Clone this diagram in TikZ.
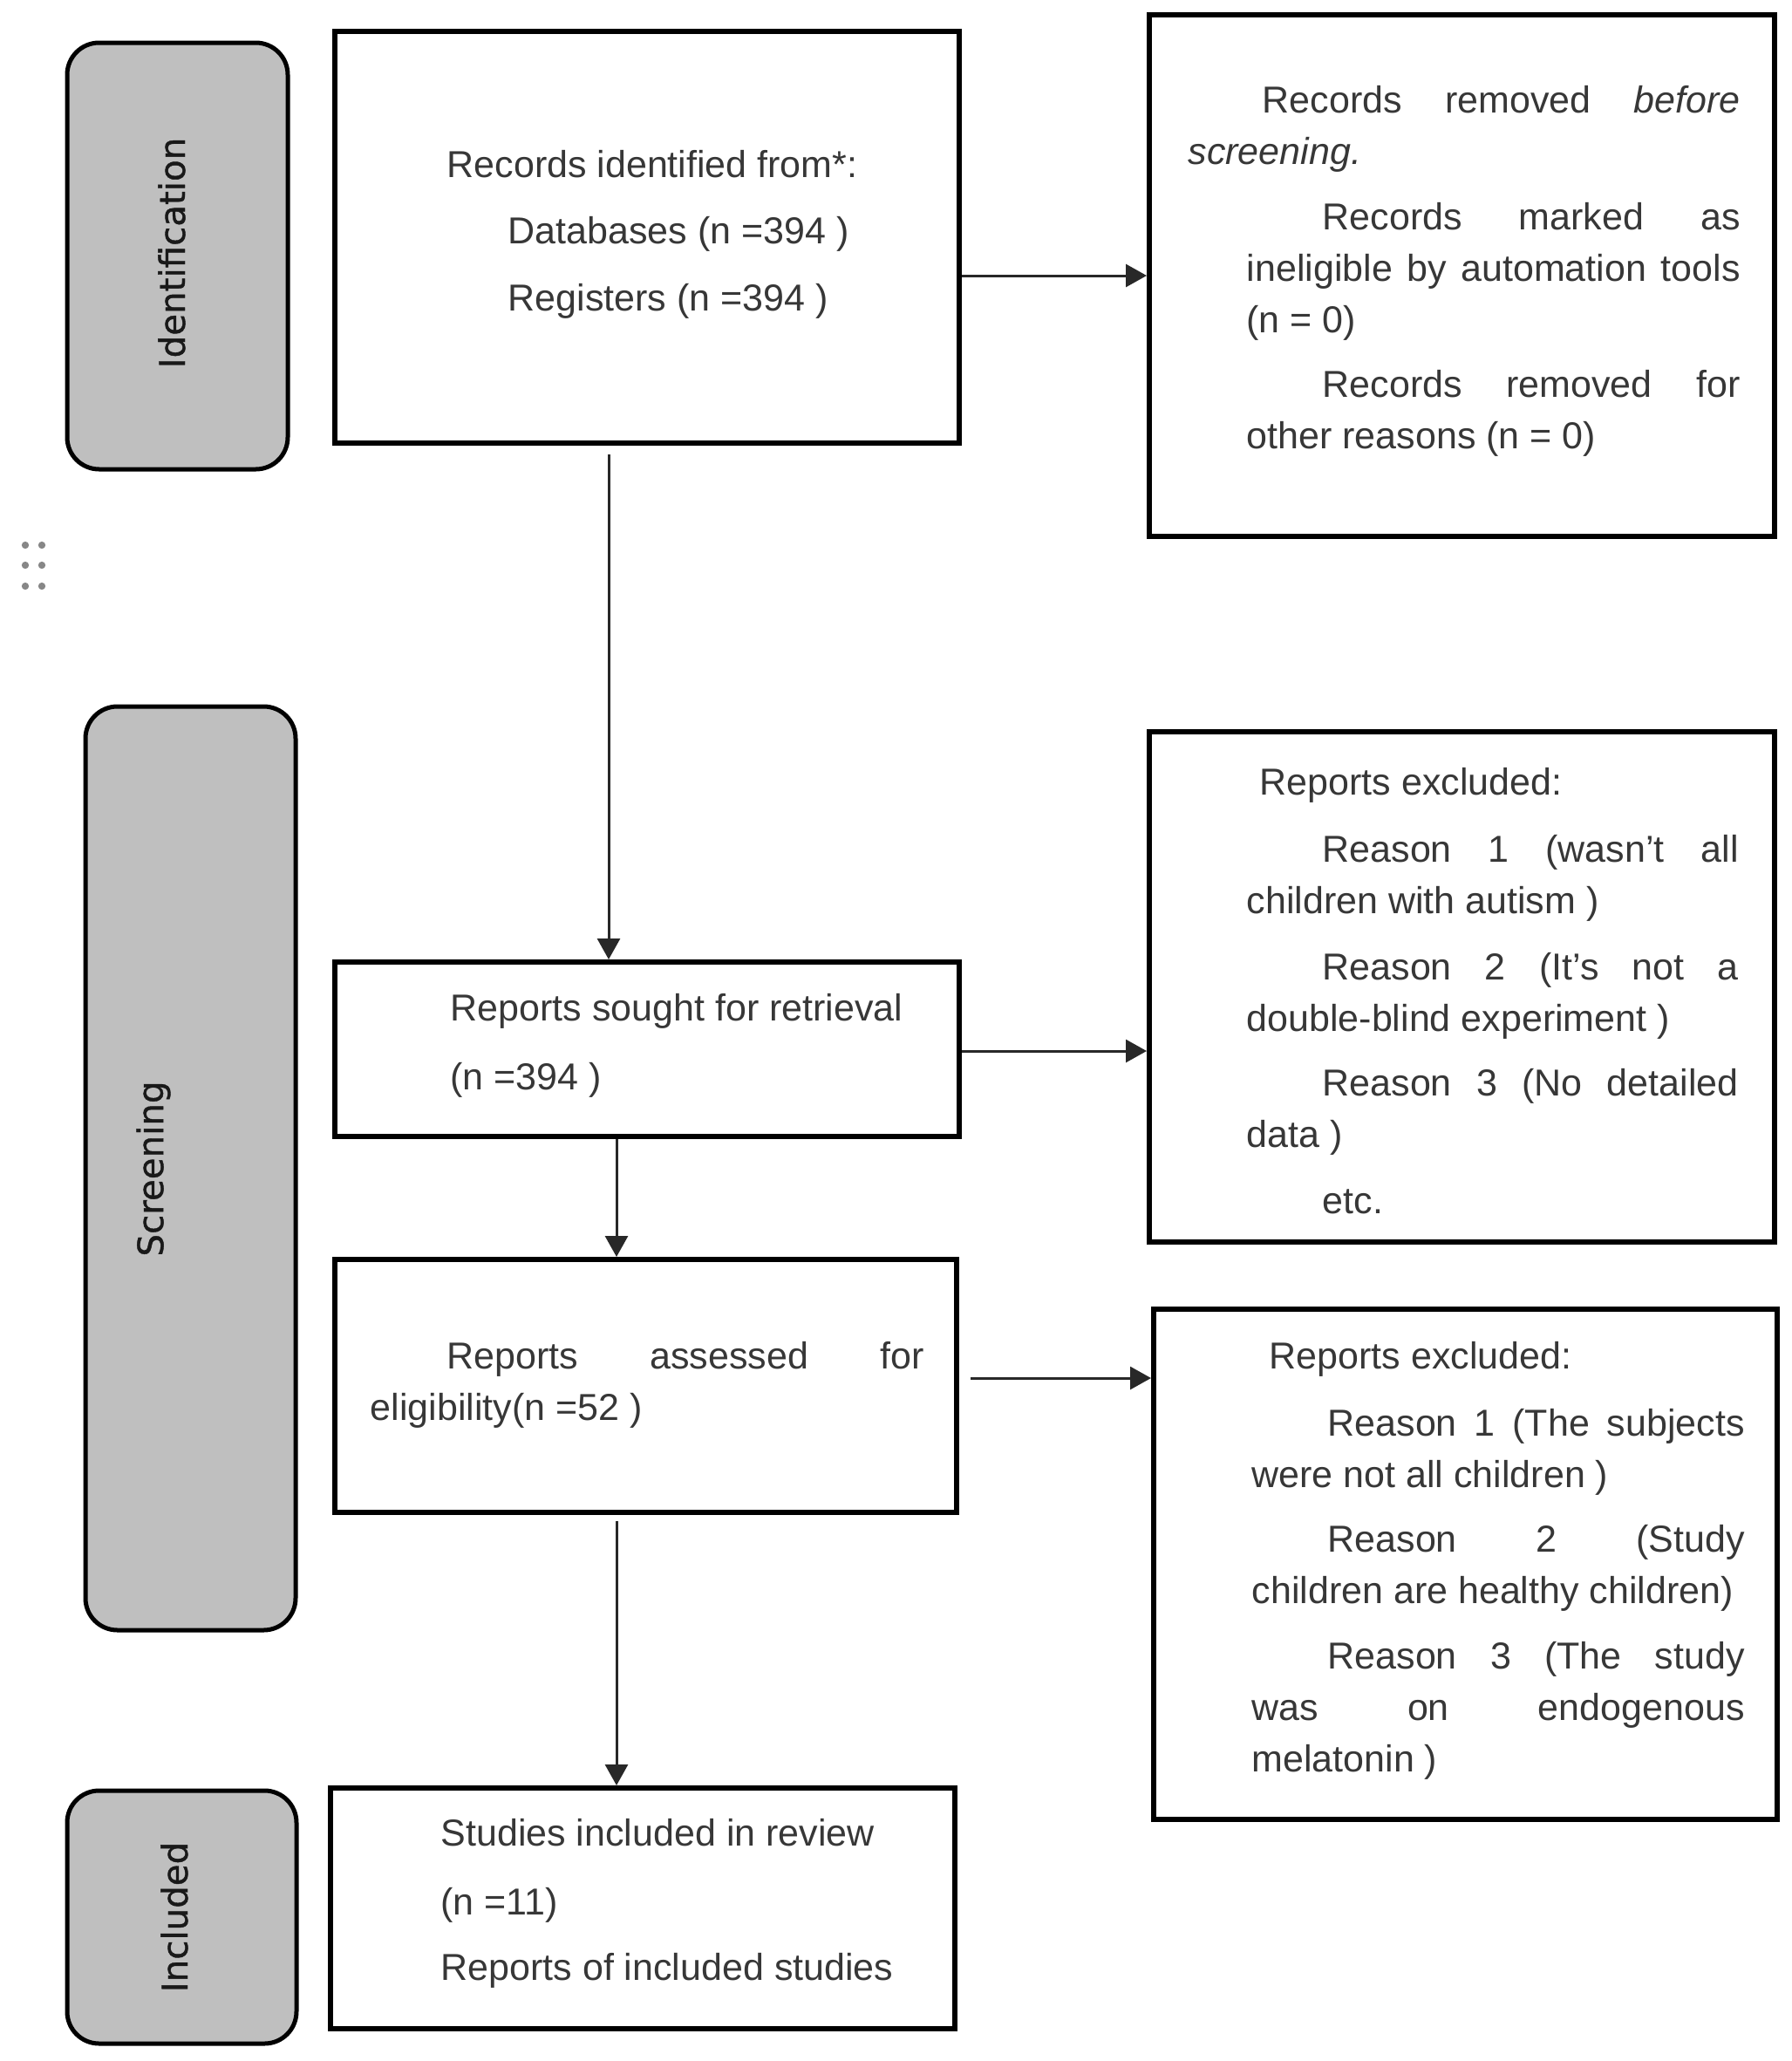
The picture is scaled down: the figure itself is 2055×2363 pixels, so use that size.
\documentclass[tikz,border=0pt]{standalone}
\usepackage{fontspec}
\setmainfont{Liberation Sans}
\newfontfamily\sidefont[FakeBold=1]{DejaVu Sans}
\usetikzlibrary{arrows.meta,calc}
\definecolor{boxgray}{RGB}{191,191,191}
\definecolor{txtc}{RGB}{55,55,55}
\definecolor{linec}{RGB}{40,40,40}
\definecolor{dotc}{RGB}{135,135,135}
\newcommand{\flowbox}[6]{\node[#6, minimum width={(#4-#2)*0.3pt}, minimum height={(#5-#3)*0.3pt}] (#1) at ({(#2+#4)/2},{(#3+#5)/2}) {};}
\newcommand{\parsetup}{\hyphenpenalty=10000\relax\exhyphenpenalty=10000\relax\tolerance=9999\relax\hbadness=10000\relax}
\newcommand{\firstind}[1]{\hspace*{#1}\ignorespaces}
\tikzset{
  mainbox/.style={draw=black, line width=1.8pt, fill=white, inner sep=0pt},
  sidebox/.style={draw=black, line width=1.5pt, fill=boxgray, rounded corners=11pt, inner sep=0pt},
  sidelabel/.style={rotate=90, inner sep=0pt, text=black!90, font=\sidefont\fontsize{12.1pt}{14pt}\selectfont},
  conn/.style={draw=linec, line width=0.9pt, -{Triangle[length=7.2pt,width=7.8pt]}},
  txtline/.style={anchor=base west, inner sep=0pt, text=txtc, font=\fontsize{12.9pt}{17.7pt}\selectfont},
  txtpara/.style={txtline, text width=#1, align=justify,
    font=\fontsize{12.9pt}{17.7pt}\selectfont\parsetup},
}
\begin{document}
\begin{tikzpicture}[x=0.3pt,y=-0.3pt]
\useasboundingbox (0,0) rectangle (2055,2363);

% side stage boxes
\flowbox{sid}{77}{49}{330}{538}{sidebox}
\flowbox{sscr}{98}{810}{339}{1869}{sidebox}
\flowbox{sinc}{77}{2053}{340}{2343}{sidebox}
\node[sidelabel] (lid) at (197,290) {Identification};
\node[sidelabel] (lscr) at (176,1340) {Screening};
\node[sidelabel] (linc) at (200,2198) {Included};

% main boxes
\flowbox{b1}{384}{36}{1100}{508}{mainbox}
\flowbox{b2}{1318}{17}{2035}{615}{mainbox}
\flowbox{b3}{384}{1103}{1100}{1303}{mainbox}
\flowbox{b5}{1318}{839}{2035}{1424}{mainbox}
\flowbox{b4}{384}{1444}{1097}{1734}{mainbox}
\flowbox{b7}{1323}{1501}{2038}{2086}{mainbox}
\flowbox{b6}{379}{2050}{1095}{2326}{mainbox}

% drag-handle dots
\foreach \dx in {29,48} \foreach \dy in {625,648,672}
  \fill[dotc] (\dx,\dy) circle[radius=1.25pt];

% box 1 text
\node[txtline] (t1a) at (512,203) {Records identified from*:};
\node[txtline] (t1b) at (582,279) {Databases (n =394 )};
\node[txtline] (t1c) at (582,356) {Registers (n =394 )};

% box 2 text
\node[txtpara=189.9pt] (t2a) at (1362,129) {\firstind{25.5pt}Records removed \textit{before}\linebreak\textit{screening.}};
\node[txtpara=169.8pt] (t2b) at (1429,263) {\firstind{26.1pt}Records marked as\linebreak ineligible by automation tools\linebreak (n = 0)};
\node[txtpara=169.8pt] (t2c) at (1429,455) {\firstind{26.1pt}Records removed for\linebreak other reasons (n = 0)};

% box 3 text
\node[txtline] (t3a) at (516,1170) {Reports sought for retrieval};
\node[txtline] (t3b) at (516,1249) {(n =394 )};

% box 5 text
\node[txtline] (t5a) at (1444,911) {Reports excluded:};
\node[txtpara=169.2pt] (t5b) at (1429,988) {\firstind{26.1pt}Reason 1 (wasn't all\linebreak children with autism )};
\node[txtpara=169.2pt] (t5c) at (1429,1123) {\firstind{26.1pt}Reason 2 (It's not a\linebreak double-blind experiment )};
\node[txtpara=169.2pt] (t5d) at (1429,1256) {\firstind{26.1pt}Reason 3 (No detailed\linebreak data )};
\node[txtline] (t5e) at (1516,1391) {etc.};

% box 4 text
\node[txtpara=190.5pt] (t4) at (424,1569) {\firstind{26.4pt}Reports assessed for\linebreak eligibility(n =52 )};

% box 7 text
\node[txtline] (t7a) at (1455,1569) {Reports excluded:};
\node[txtpara=169.5pt] (t7b) at (1435,1646) {\firstind{26.1pt}Reason 1 (The subjects\linebreak were not all children )};
\node[txtpara=169.5pt] (t7c) at (1435,1779) {\firstind{26.1pt}Reason 2 (Study\linebreak children are healthy children)};
\node[txtpara=169.5pt] (t7d) at (1435,1913) {\firstind{26.1pt}Reason 3 (The study\linebreak was on endogenous\linebreak melatonin )};

% box 6 text
\node[txtline] (t6a) at (505,2116) {Studies included in review};
\node[txtline] (t6b) at (505,2195) {(n =11)};
\node[txtline] (t6c) at (505,2270) {Reports of included studies};

% connectors
\coordinate (ax1) at (698,0);
\coordinate (ax2) at (707,0);
\coordinate (ay1) at (0,316);
\coordinate (ay2) at (0,1205);
\coordinate (ay3) at (0,1580);
\draw[conn] (b1.east |- ay1) -- (b2.west |- ay1);
\draw[conn, shorten <=3pt] (b1.south -| ax1) -- (b3.north -| ax1);
\draw[conn] (b3.east |- ay2) -- (b5.west |- ay2);
\draw[conn] (b3.south -| ax2) -- (b4.north -| ax2);
\draw[conn, shorten <=4pt] (b4.east |- ay3) -- (b7.west |- ay3);
\draw[conn, shorten <=2pt] (b4.south -| ax2) -- (b6.north -| ax2);
\end{tikzpicture}
\end{document}
